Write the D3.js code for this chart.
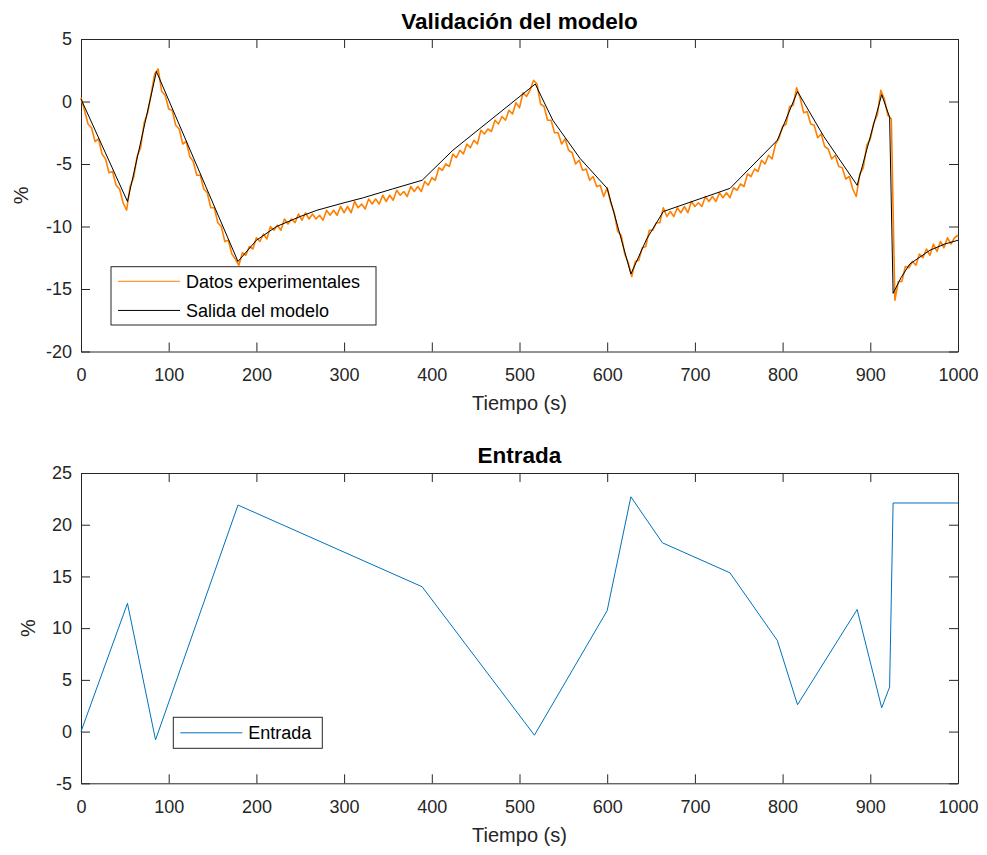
<!DOCTYPE html>
<html>
<head>
<meta charset="utf-8">
<script src="https://cdn.jsdelivr.net/npm/d3@7"></script>
<style>
  body { margin: 0; background: #ffffff; }
  text { font-family: "Liberation Sans", Arial, Helvetica, sans-serif; }
</style>
</head>
<body>
<div id="chart"></div>
<script>
// model output, key points (s, %)
var modelTime = [0, 53, 86, 179, 200, 223, 250, 269, 300, 322, 355, 389, 424, 455, 518, 538, 569, 600, 627, 645, 664, 740, 794, 817, 847, 885, 913, 922, 926, 935, 945, 968, 985, 1000]
var modelValue = [0.2, -8.0, 2.4, -12.8, -11.1, -10.0, -9.2, -8.7, -8.1, -7.7, -7.0, -6.3, -3.9, -2.15, 1.4, -1.5, -4.55, -6.95, -13.8, -11.0, -8.8, -6.95, -3.1, 0.8, -2.8, -6.7, 0.55, -1.25, -15.35, -14.1, -13.0, -11.9, -11.4, -11.1]

var dataStep = 4
var dataValue = [
  0.3, -0.7, -1.8, -2.1, -3.2, -3.0, -4.2, -4.6, -5.7, -5.6, -6.7, -7.0, -8.1, -8.7,
  -6.8, -6.1, -4.4, -3.7, -1.7, -0.9, 0.6, 2.2,
  2.6, 0.8, 0.5, -0.6, -0.7, -1.9, -2.2, -3.4, -3.2, -4.4, -4.8, -5.9, -5.9, -7.0, -7.3, -8.5, -8.5, -9.7, -10.0, -11.2, -11.1, -12.2, -12.6,
  -13.1,
  -12.1, -12.3, -11.6, -11.8, -10.9, -11.2, -10.6, -11.0, -10.0, -10.3, -9.9, -10.3, -9.4, -9.8, -9.4, -9.7, -9.0, -9.5, -8.9, -9.4,
  -9.0, -9.4, -9.1, -9.5, -8.7, -9.1, -8.7, -9.1, -8.4, -8.9, -8.4, -8.9, -8.0, -8.5, -8.2, -8.6,
  -7.8, -8.2, -7.8, -8.2, -7.5, -8.0, -7.5, -7.9, -7.1, -7.5, -7.2, -7.6, -6.8, -7.2, -6.8, -7.2,
  -6.4, -6.7, -6.1, -6.3, -5.3, -5.5, -5.0, -5.2, -4.2, -4.5, -3.9, -4.2, -3.4, -3.7, -3.1, -3.4,
  -2.3, -2.6, -2.2, -2.4, -1.5, -1.8, -1.2, -1.5, -0.7, -1.0, -0.1, -0.5, 0.7, 0.4, 0.9, 1.7,
  1.4, -0.2, -0.4, -1.5, -1.5, -2.5, -2.5, -3.4, -3.0, -3.9, -4.1, -5.0, -4.7, -5.5, -5.4, -6.3, -6.0, -6.8, -6.7, -7.6, -6.9,
  -8.1, -8.9, -10.4, -10.7, -12.2, -12.9, -14.0,
  -12.8, -12.7, -11.7, -11.6, -10.3, -10.3, -9.7, -9.7, -8.5,
  -9.2, -8.8, -9.2, -8.5, -8.9, -8.4, -8.9, -8.0, -8.4, -8.1, -8.4, -7.6, -8.0, -7.6, -8.0, -7.3, -7.7, -7.3, -7.7,
  -6.9, -7.1, -6.6, -6.8, -5.8, -6.0, -5.4, -5.6, -4.7, -5.0, -4.3, -4.6, -3.4,
  -2.9, -2.0, -1.8, -0.4, -0.3, 1.1,
  0.3, -0.9, -0.8, -1.8, -1.9, -2.9, -2.6, -3.6, -3.8, -4.6, -4.3, -5.2, -5.3, -6.2, -6.0, -7.0, -7.6,
  -5.8, -5.3, -3.5, -3.0, -1.7, -1.1, 0.9,
  0.2, -1.1, -1.4,
  -15.9, -14.4, -14.4, -13.2, -13.3, -12.8, -13.1, -12.2, -12.5, -11.8, -12.3, -11.4, -12.0, -11.2, -11.7, -10.9, -11.4, -10.9, -10.7
]

// input signal
var inputTime = [0, 53, 85, 179, 389, 517, 600, 627, 663, 740, 794, 817, 885, 913, 922, 926, 1000]
var inputValue = [0, 12.4, -0.8, 21.9, 14.0, -0.35, 11.7, 22.7, 18.25, 15.35, 8.8, 2.6, 11.8, 2.3, 4.3, 22.1, 22.1]

var xTicks = [0, 100, 200, 300, 400, 500, 600, 700, 800, 900, 1000]
var yTicksTop = [-20, -15, -10, -5, 0, 5]
var yTicksBottom = [-5, 0, 5, 10, 15, 20, 25]

var width = 987
var height = 855
var left = 81
var right = 958
var axisColor = '#262626'
var tickLen = 9

var svg = d3.select('#chart').append('svg')
  .attr('width', width)
  .attr('height', height)

var x = d3.scaleLinear().domain([0, 1000]).range([left, right])
var yTop = d3.scaleLinear().domain([-20, 5]).range([351.5, 39])
var yBottom = d3.scaleLinear().domain([-5, 25]).range([783.3, 473])

// plain numbers, hyphen minus, no thousands comma
var plain = function (d) { return String(d) }

function drawAxes(y, yTicks, title, ylabelX) {
  var y0 = y.range()[0]
  var y1 = y.range()[1]
  var g = svg.append('g')

  g.append('rect')
    .attr('x', left)
    .attr('y', y1)
    .attr('width', right - left)
    .attr('height', y0 - y1)
    .attr('fill', '#ffffff')

  g.append('g')
    .attr('transform', 'translate(0,' + y0 + ')')
    .call(d3.axisBottom(x).tickValues(xTicks).tickSize(-tickLen).tickSizeOuter(0).tickPadding(17).tickFormat(plain))
  g.append('g')
    .attr('transform', 'translate(0,' + y1 + ')')
    .call(d3.axisTop(x).tickValues(xTicks).tickSize(-tickLen).tickSizeOuter(0).tickFormat(''))
  g.append('g')
    .attr('transform', 'translate(' + left + ',0)')
    .call(d3.axisLeft(y).tickValues(yTicks).tickSize(-tickLen).tickSizeOuter(0).tickPadding(9).tickFormat(plain))
  g.append('g')
    .attr('transform', 'translate(' + right + ',0)')
    .call(d3.axisRight(y).tickValues(yTicks).tickSize(-tickLen).tickSizeOuter(0).tickFormat(''))

  g.selectAll('.domain').attr('stroke', axisColor).attr('stroke-width', 1)
  g.selectAll('.tick line').attr('stroke', axisColor).attr('stroke-width', 1)
  g.selectAll('.tick text')
    .attr('fill', axisColor)
    .attr('font-size', '18px')
    .attr('font-family', '"Liberation Sans", Arial, sans-serif')

  g.append('text')
    .attr('x', (left + right) / 2)
    .attr('y', y0 + 58.5)
    .attr('text-anchor', 'middle')
    .attr('font-size', '20px')
    .attr('fill', axisColor)
    .text('Tiempo (s)')

  g.append('text')
    .attr('transform', 'translate(' + ylabelX + ',' + ((y0 + y1) / 2) + ') rotate(-90)')
    .attr('text-anchor', 'middle')
    .attr('dy', '0.35em')
    .attr('font-size', '20px')
    .attr('fill', axisColor)
    .text('%')

  g.append('text')
    .attr('x', (left + right) / 2)
    .attr('y', y1 - 10)
    .attr('text-anchor', 'middle')
    .attr('font-size', '22.5px')
    .attr('font-weight', 'bold')
    .attr('fill', '#000000')
    .text(title)

  return g
}

function drawLegend(bx, by, bw, bh, items) {
  var g = svg.append('g')
  g.append('rect')
    .attr('x', bx)
    .attr('y', by)
    .attr('width', bw)
    .attr('height', bh)
    .attr('fill', '#ffffff')
    .attr('stroke', axisColor)
    .attr('stroke-width', 1)

  var rowH = bh / items.length
  items.forEach(function (d, i) {
    var cy = by + rowH * (i + 0.5)
    g.append('line')
      .attr('x1', bx + 7)
      .attr('x2', bx + 69)
      .attr('y1', cy)
      .attr('y2', cy)
      .attr('stroke', d.color)
      .attr('stroke-width', 1)
    g.append('text')
      .attr('x', bx + 75)
      .attr('y', cy)
      .attr('dy', '0.35em')
      .attr('font-size', '18px')
      .attr('fill', '#000000')
      .text(d.name)
  })
}

// top plot
var gTop = drawAxes(yTop, yTicksTop, 'Validación del modelo', 21)

var dataLine = d3.line()
  .x(function (d, i) { return x(i * dataStep) })
  .y(function (d) { return yTop(d) })

var modelLine = d3.line()
  .x(function (d, i) { return x(modelTime[i]) })
  .y(function (d) { return yTop(d) })

gTop.append('path')
  .datum(dataValue)
  .attr('d', dataLine)
  .attr('fill', 'none')
  .attr('stroke', '#ff8000')
  .attr('stroke-width', 1.6)
  .attr('stroke-linejoin', 'round')

gTop.append('path')
  .datum(modelValue)
  .attr('d', modelLine)
  .attr('fill', 'none')
  .attr('stroke', '#000000')
  .attr('stroke-width', 1)

drawLegend(111, 266.7, 265, 58.3, [
  {name: 'Datos experimentales', color: '#ff8000'},
  {name: 'Salida del modelo', color: '#000000'}
])

// bottom plot
var gBottom = drawAxes(yBottom, yTicksBottom, 'Entrada', 28)

var inputLine = d3.line()
  .x(function (d, i) { return x(inputTime[i]) })
  .y(function (d) { return yBottom(d) })

gBottom.append('path')
  .datum(inputValue)
  .attr('d', inputLine)
  .attr('fill', 'none')
  .attr('stroke', '#0072bd')
  .attr('stroke-width', 1)

drawLegend(173.3, 717.3, 149, 31, [
  {name: 'Entrada', color: '#0072bd'}
])

</script>
</body>
</html>
